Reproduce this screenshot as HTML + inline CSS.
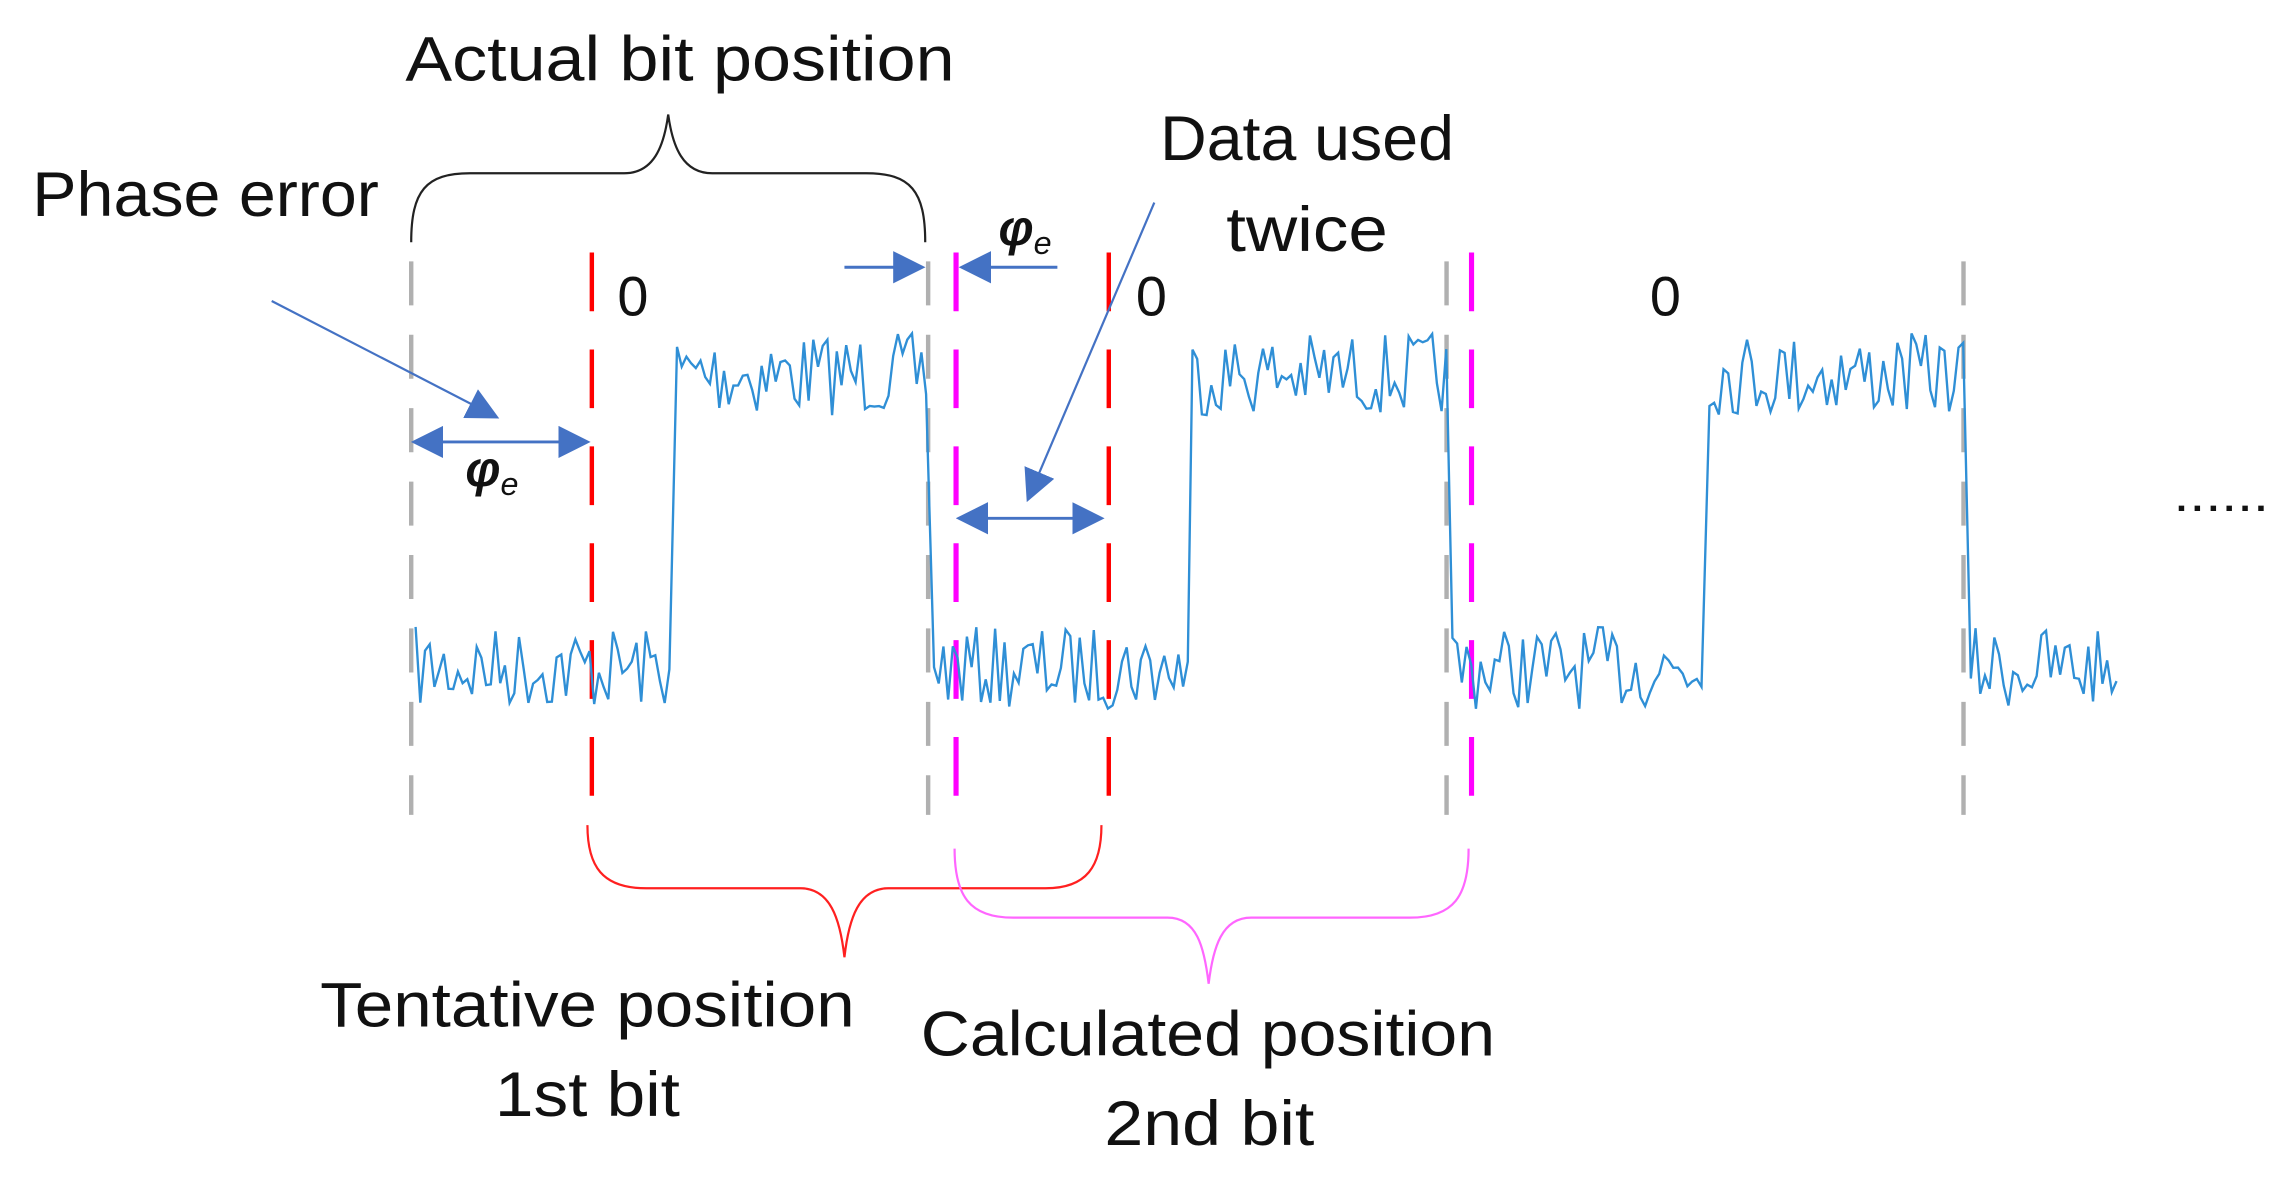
<!DOCTYPE html>
<html><head><meta charset="utf-8"><style>
html,body{margin:0;padding:0;background:#fff;}
svg{display:block;}
text{font-family:"Liberation Sans",sans-serif;fill:#111;}
</style></head><body>
<svg id="s" width="2291" height="1179" viewBox="0 0 1560 803" preserveAspectRatio="none" xmlns="http://www.w3.org/2000/svg">
<defs>
<marker id="ah2" viewBox="0 0 10 10" refX="9" refY="5" markerWidth="22" markerHeight="22" markerUnits="userSpaceOnUse" orient="auto-start-reverse">
<path d="M0,0 L10,5 L0,10 z" fill="#4472c4"/></marker>
</defs>
<g stroke="#b0b0b0" stroke-width="3" stroke-dasharray="30,20">
<line x1="280" y1="178" x2="280" y2="555"/>
<line x1="632" y1="178" x2="632" y2="555"/>
<line x1="985" y1="178" x2="985" y2="555"/>
<line x1="1337" y1="178" x2="1337" y2="555"/>
</g>
<g stroke="#ff0000" stroke-width="3" stroke-dasharray="40,26">
<line x1="403" y1="172" x2="403" y2="555"/>
<line x1="755" y1="172" x2="755" y2="555"/>
</g>
<g stroke="#ff00ff" stroke-width="3.5" stroke-dasharray="40,26">
<line x1="651" y1="172" x2="651" y2="555"/>
<line x1="1002" y1="172" x2="1002" y2="555"/>
</g>
<polyline id="sig" fill="none" stroke="#2f8fd6" stroke-width="1.6" points=""/>
<path d="M280,165 C280,130 290,118 320,118 L425,118 C445,118 452,100 455,78 C458,100 465,118 485,118 L590,118 C620,118 630,130 630,165" fill="none" stroke="#222" stroke-width="1.5"/>
<path d="M400,562 C400,590 410,605 440,605 L545,605 C565,605 572,625 575,652 C578,625 585,605 605,605 L712,605 C740,605 750,590 750,562" fill="none" stroke="#ff2020" stroke-width="1.5"/>
<path d="M650,578 C650,610 660,625 690,625 L795,625 C815,625 820,645 823,670 C826,645 832,625 852,625 L960,625 C990,625 1000,610 1000,578" fill="none" stroke="#ff66ff" stroke-width="1.5"/>
<line x1="185" y1="205" x2="338" y2="284" stroke="#4472c4" stroke-width="1.5" marker-end="url(#ah2)"/>
<line x1="282" y1="301" x2="400" y2="301" stroke="#4472c4" stroke-width="2" marker-start="url(#ah2)" marker-end="url(#ah2)"/>
<line x1="575" y1="182" x2="628" y2="182" stroke="#4472c4" stroke-width="2" marker-end="url(#ah2)"/>
<line x1="720" y1="182" x2="655" y2="182" stroke="#4472c4" stroke-width="2" marker-end="url(#ah2)"/>
<line x1="786" y1="138" x2="700" y2="340" stroke="#4472c4" stroke-width="1.5" marker-end="url(#ah2)"/>
<line x1="653" y1="353" x2="750" y2="353" stroke="#4472c4" stroke-width="2" marker-start="url(#ah2)" marker-end="url(#ah2)"/>
<text x="276" y="55" font-size="43" textLength="374" lengthAdjust="spacingAndGlyphs">Actual bit position</text>
<text x="22" y="147" font-size="43" textLength="236" lengthAdjust="spacingAndGlyphs">Phase error</text>
<text x="790" y="109" font-size="43" textLength="200" lengthAdjust="spacingAndGlyphs">Data used</text>
<text x="835" y="171" font-size="43" textLength="110" lengthAdjust="spacingAndGlyphs">twice</text>
<text x="431" y="215" font-size="38" text-anchor="middle">0</text>
<text x="784" y="215" font-size="38" text-anchor="middle">0</text>
<text x="1134" y="215" font-size="38" text-anchor="middle">0</text>
<text x="335" y="331" font-size="34" font-style="italic" font-weight="bold" font-family="Liberation Serif,serif" text-anchor="middle">φ<tspan font-size="22" dy="6" font-weight="normal" font-family="Liberation Sans,sans-serif">e</tspan></text>
<text x="698" y="167" font-size="34" font-style="italic" font-weight="bold" font-family="Liberation Serif,serif" text-anchor="middle">φ<tspan font-size="22" dy="6" font-weight="normal" font-family="Liberation Sans,sans-serif">e</tspan></text>
<text x="218" y="699" font-size="43" textLength="364" lengthAdjust="spacingAndGlyphs">Tentative position</text>
<text x="337" y="760" font-size="43" textLength="126" lengthAdjust="spacingAndGlyphs">1st bit</text>
<text x="627" y="719" font-size="43" textLength="391" lengthAdjust="spacingAndGlyphs">Calculated position</text>
<text x="752" y="780" font-size="43" textLength="143" lengthAdjust="spacingAndGlyphs">2nd bit</text>
<text x="1480" y="348" font-size="34" textLength="65" lengthAdjust="spacingAndGlyphs">......</text>
</svg>
<script>
(function(){
var seed=7;function r(){seed=(seed*16807)%2147483647;return seed/2147483647;}
var pts=[];var trans=[[283,458,'L'],[461,632,'H'],[636,809,'L'],[812,985,'H'],[989,1161,'L'],[1164,1338,'H'],[1342,1443,'L']];
trans.forEach(function(t){
 var base=t[2]=='L'?455:255;
 for(var x=t[0];x<=t[1];x+=3.2){
   var y=base+(r()-0.5)*56;
   pts.push(x.toFixed(1)+','+y.toFixed(1));
 }
});
document.getElementById('sig').setAttribute('points',pts.join(' '));
})();
</script>
</body></html>
